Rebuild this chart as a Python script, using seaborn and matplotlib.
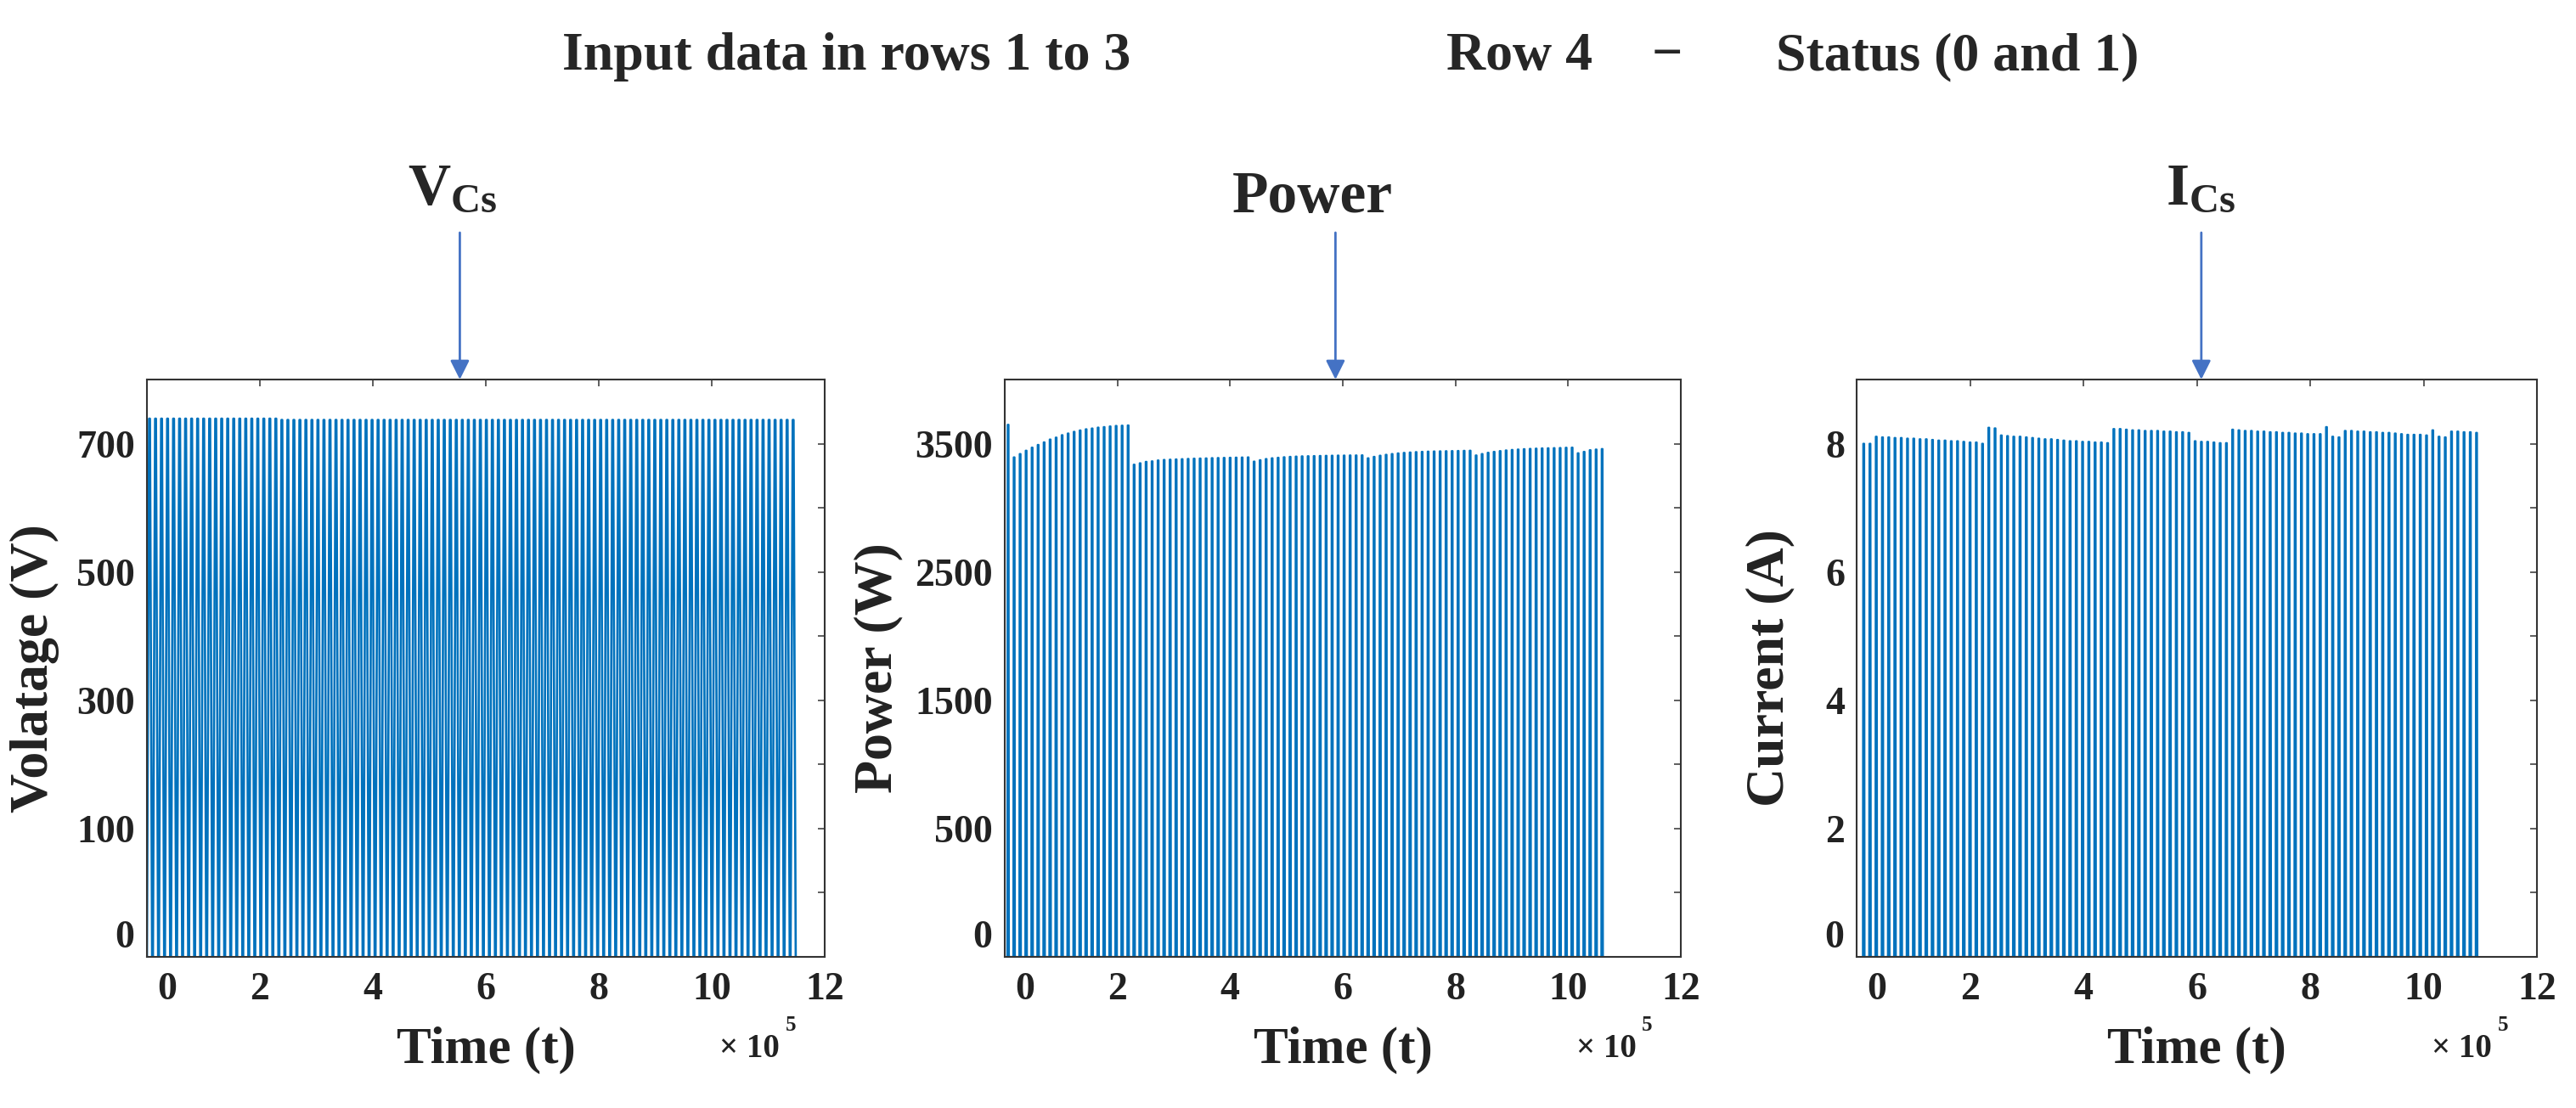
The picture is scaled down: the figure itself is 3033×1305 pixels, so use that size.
import numpy as np
import pandas as pd
import matplotlib
matplotlib.use("Agg")
import matplotlib.pyplot as plt
import seaborn as sns

# ---------------- data ----------------
# switching period of the pulses (time units)
V_PERIOD = 10650
P_PERIOD = 10650
I_PERIOD = 11030

# V_Cs : peak level per block, number of pulses per block
v_first = 0
v_levels = [739, 737]
v_counts = [22, 86]
v_low = -100

# Power : peak of every pulse, block by block
p_first = 4500
p_block1 = [3648, 3394, 3420, 3446, 3470, 3491, 3511, 3533, 3548, 3567, 3580,
            3593, 3604, 3613, 3619, 3626, 3630, 3635, 3639, 3641, 3643]
p_block2 = [3337, 3348, 3359, 3363, 3370, 3374, 3376, 3378, 3380, 3382,
            3384, 3385, 3386, 3388, 3389, 3390, 3391, 3392, 3393, 3394]
p_block3 = [3361, 3372, 3381, 3387, 3391, 3395, 3398, 3400, 3402, 3403,
            3404, 3405, 3406, 3407, 3408, 3408, 3409, 3409, 3410]
p_block4 = [3387, 3398, 3407, 3414, 3420, 3425, 3429, 3432, 3435, 3437,
            3439, 3440, 3441, 3442, 3443, 3444, 3445, 3446]
p_block5 = [3409, 3420, 3430, 3437, 3443, 3448, 3452, 3455, 3458, 3460,
            3462, 3464, 3465, 3466, 3467, 3469, 3470]
p_block6 = [3426, 3437, 3450, 3455, 3459]
p_low = -500

# I_Cs : peak of every pulse, block by block
i_first = 11000
i_block1 = [8.00, 8.00]
i_block2 = [8.11, 8.10, 8.10, 8.09, 8.09, 8.08, 8.08, 8.07, 8.07, 8.06,
            8.05, 8.05, 8.04, 8.04, 8.03, 8.02, 8.02, 8.00]
i_block3 = [8.25, 8.24]
i_block4 = [8.13, 8.12, 8.11, 8.11, 8.10, 8.09, 8.08, 8.07, 8.07, 8.06,
            8.05, 8.04, 8.04, 8.03, 8.03, 8.02, 8.02, 8.01]
i_block5 = [8.23, 8.23, 8.22, 8.21, 8.21, 8.20, 8.20, 8.20, 8.19, 8.19,
            8.18, 8.18, 8.17]
i_block6 = [8.04, 8.03, 8.03, 8.02, 8.01, 8.01]
i_block7 = [8.22, 8.21, 8.20, 8.20, 8.19, 8.19, 8.18, 8.18, 8.17, 8.17,
            8.16, 8.16, 8.15, 8.15, 8.15]
i_block8 = [8.26, 8.11, 8.10]
i_block9 = [8.20, 8.20, 8.19, 8.19, 8.18, 8.18, 8.17, 8.17, 8.16, 8.15,
            8.14, 8.14, 8.14, 8.13]
i_block10 = [8.21, 8.11, 8.10]
i_block11 = [8.19, 8.19, 8.18, 8.18, 8.17]
i_low = 0

x_ticks = [0, 2e5, 4e5, 6e5, 8e5, 10e5, 12e5]
x_tick_labels = ["", "2", "4", "6", "8", "10", "12"]

v_ticks = [0, 100, 200, 300, 400, 500, 600, 700]
v_tick_labels = ["", "100", "", "300", "", "500", "", "700"]
p_ticks = [0, 500, 1000, 1500, 2000, 2500, 3000, 3500]
p_tick_labels = ["", "500", "", "1500", "", "2500", "", "3500"]
i_ticks = [1, 2, 3, 4, 5, 6, 7, 8]
i_tick_labels = ["", "2", "", "4", "", "6", "", "8"]

# pulse outline within one period: (fraction of period, high?)
V_SHAPE = [(0.0, 0), (0.36, 1), (0.5, 1), (0.86, 0)]
BAR_SHAPE = [(0.0, 0), (0.06, 1), (0.22, 1), (0.28, 0)]


def pulse_frame(first, period, peaks, low, shape):
    t, y = [], []
    for k, pk in enumerate(peaks):
        t0 = first + k * period
        for frac, on in shape:
            t.append(t0 + frac * period)
            y.append(pk if on else low)
    return pd.DataFrame({"Time": t, "Value": y})


v_peaks = []
for lev, n in zip(v_levels, v_counts):
    v_peaks += [lev] * n
p_peaks = p_block1 + p_block2 + p_block3 + p_block4 + p_block5 + p_block6
i_peaks = (i_block1 + i_block2 + i_block3 + i_block4 + i_block5 + i_block6
           + i_block7 + i_block8 + i_block9 + i_block10 + i_block11)

df_v = pulse_frame(v_first, V_PERIOD, v_peaks, v_low, V_SHAPE)
df_p = pulse_frame(p_first, P_PERIOD, p_peaks, p_low, BAR_SHAPE)
df_i = pulse_frame(i_first, I_PERIOD, i_peaks, i_low, BAR_SHAPE)

# ---------------- style ----------------
sns.set_style("white")
plt.rcParams["font.family"] = ["Liberation Serif", "DejaVu Serif"]
plt.rcParams["font.weight"] = "bold"
plt.rcParams["mathtext.fontset"] = "custom"
plt.rcParams["mathtext.rm"] = "Liberation Serif:bold"
plt.rcParams["mathtext.bf"] = "Liberation Serif:bold"
plt.rcParams["mathtext.it"] = "Liberation Serif:bold"

LINE_BLUE = "#0072BD"
ARROW_BLUE = "#4472C4"
FRAME = "#333333"
TXT = "#222222"

W, H = 3033, 1305
fig = plt.figure(figsize=(W / 100, H / 100), dpi=100)

panels = [
    dict(left=173, right=971, df=df_v, lw=1.9, ylim=(-100, 800), ticks=v_ticks,
         labels=v_tick_labels, ylabel="Volatage (V)", ylab_x=-0.129,
         arrow_x=5.54e5, tag=r"$\mathbf{V}_{\mathbf{Cs}}$", tag_x=533, tag_y=240),
    dict(left=1183, right=1979, df=df_p, lw=1.6, ylim=(-500, 4000), ticks=p_ticks,
         labels=p_tick_labels, ylabel="Power (W)", ylab_x=-0.150,
         arrow_x=5.87e5, tag="Power", tag_x=1545, tag_y=250),
    dict(left=2186, right=2987, df=df_i, lw=1.6, ylim=(0, 9), ticks=i_ticks,
         labels=i_tick_labels, ylabel="Current (A)", ylab_x=-0.091,
         arrow_x=6.08e5, tag=r"$\mathbf{I}_{\mathbf{Cs}}$", tag_x=2591, tag_y=240),
]

top_px, bottom_px = 447, 1127
for pn in panels:
    ax = fig.add_axes([pn["left"] / W, 1 - bottom_px / H,
                       (pn["right"] - pn["left"]) / W, (bottom_px - top_px) / H])
    sns.lineplot(data=pn["df"], x="Time", y="Value", ax=ax, color=LINE_BLUE,
                 linewidth=pn["lw"], sort=False, estimator=None)

    ax.set_xlim(0, 12e5)
    ax.set_ylim(*pn["ylim"])
    ax.set_xticks(x_ticks)
    ax.set_xticklabels(x_tick_labels)
    ax.set_yticks(pn["ticks"])
    ax.set_yticklabels(pn["labels"])
    ax.tick_params(direction="in", length=6, width=1.1, top=True, right=True,
                   labelsize=33, color=FRAME, labelcolor=TXT)
    ax.tick_params(axis="x", pad=13)
    ax.tick_params(axis="y", pad=10)
    for sp in ax.spines.values():
        sp.set_color(FRAME)
        sp.set_linewidth(1.5)

    # the "0" labels sit slightly inside the frame corner
    ax.text(0.03, -0.0265, "0", transform=ax.transAxes, ha="center",
            va="top", fontsize=33, fontweight="bold", color=TXT)
    ax.text(-0.019, 0.032, "0", transform=ax.transAxes, ha="right",
            va="center", fontsize=33, fontweight="bold", color=TXT)

    ax.set_xlabel("Time (t)", fontsize=44, fontweight="bold", color=TXT)
    ax.xaxis.set_label_coords(0.5, -0.12)
    ax.set_ylabel(pn["ylabel"], fontsize=46, fontweight="bold", color=TXT)
    ax.yaxis.set_label_coords(pn["ylab_x"], 0.5)

    # exponent note
    ax.text(0.845, -0.174, "\u00d7 10", transform=ax.transAxes, ha="left",
            va="baseline", fontsize=28, fontweight="bold", color=TXT)
    ax.text(0.942, -0.128, "5", transform=ax.transAxes, ha="left",
            va="baseline", fontsize=18, fontweight="bold", color=TXT)

    # pointer arrow from the tag down to the frame
    ax.annotate("", xy=(pn["arrow_x"], 1.0), xycoords=("data", "axes fraction"),
                xytext=(pn["arrow_x"], 1.0 + (top_px - 274) / (bottom_px - top_px)),
                textcoords=("data", "axes fraction"),
                arrowprops=dict(arrowstyle="-|>,head_length=0.8,head_width=0.4",
                                mutation_scale=17, color=ARROW_BLUE, lw=2,
                                shrinkA=0, shrinkB=0))

    fig.text(pn["tag_x"] / W, 1 - pn["tag_y"] / H, pn["tag"], ha="center",
             va="baseline", fontsize=50, fontweight="bold")

# heading row
fig.text(997 / W, 1 - 82 / H, "Input data in rows 1 to 3", ha="center",
         va="baseline", fontsize=46, fontweight="bold")
fig.text(1789 / W, 1 - 82 / H, "Row 4", ha="center", va="baseline",
         fontsize=46, fontweight="bold")
fig.text(1963 / W, 1 - 82 / H, "\u2212", ha="center", va="baseline",
         fontsize=46, fontweight="bold")
fig.text(2305 / W, 1 - 82 / H, "Status (0 and 1)", ha="center",
         va="baseline", fontsize=46, fontweight="bold")

fig.savefig("out.png", dpi=100)
